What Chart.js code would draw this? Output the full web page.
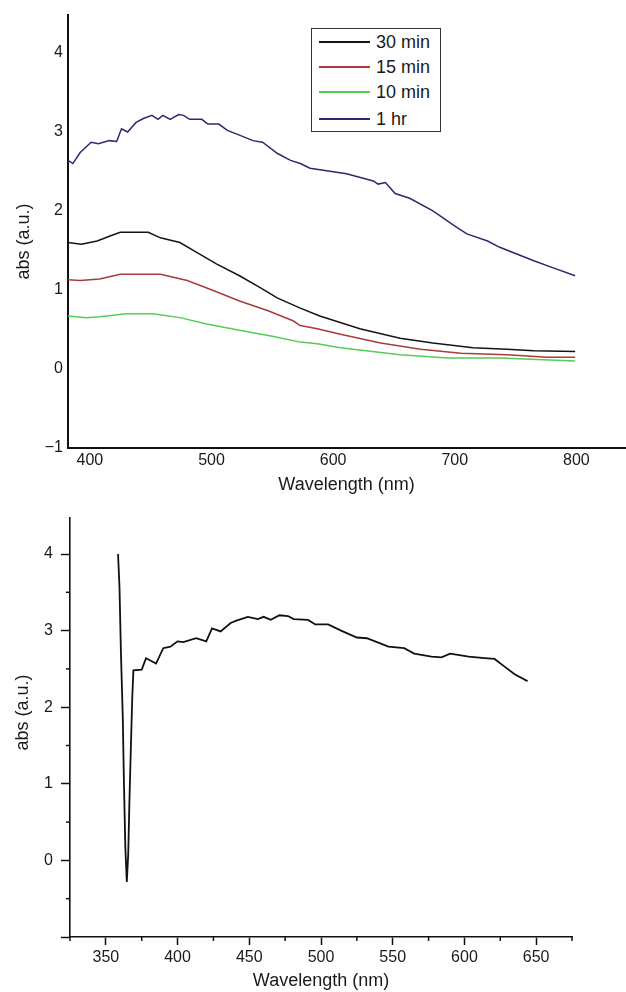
<!DOCTYPE html>
<html><head><meta charset="utf-8">
<script src="https://cdn.jsdelivr.net/npm/chart.js@4"></script>
<style>
html,body{margin:0;padding:0;background:#fff;}
#wrap{position:relative;width:626px;height:992px;overflow:hidden;}
#top{position:absolute;left:0;top:0;width:626px;height:500px;}
#bot{position:absolute;left:0;top:500px;width:626px;height:492px;}
#legend{position:absolute;left:311px;top:28px;width:128px;height:102px;border:1px solid #333;background:#fff;font-family:"Liberation Sans",Arial,sans-serif;font-size:18px;color:#1a1a1a;}
.row{position:absolute;left:0;height:22px;line-height:22px;width:128px;}
.sw{position:absolute;left:7px;top:10px;width:51px;height:2px;}
.lb{position:absolute;left:64px;top:0;white-space:nowrap;}
</style></head>
<body>
<div id="wrap">
  <div id="top"><canvas id="c1"></canvas></div>
  <div id="legend"></div>
  <div id="bot"><canvas id="c2"></canvas></div>
</div>
<script>
const FONT = '"Liberation Sans", Arial, Helvetica, sans-serif';
const TEXT = '#1a1a1a';

// ---- top chart data ----
const topXTicks = [400, 500, 600, 700, 800];
const topYTicks = [-1, 0, 1, 2, 3, 4];
const seriesLabels = ['30 min', '15 min', '10 min', '1 hr'];
const seriesColors = ['#141414', '#a83c3c', '#55cc55', '#2a2a6e'];

const wl30  = [382, 393, 406, 416, 425, 448, 458, 474, 485, 504, 523, 540, 554, 573, 589, 622, 655, 682, 715, 743, 765, 799];
const abs30 = [1.60, 1.58, 1.62, 1.68, 1.73, 1.73, 1.66, 1.60, 1.50, 1.33, 1.18, 1.03, 0.90, 0.77, 0.67, 0.51, 0.39, 0.33, 0.27, 0.25, 0.23, 0.22];

const wl15  = [382, 392, 408, 425, 458, 480, 502, 523, 546, 567, 573, 587, 606, 639, 672, 705, 743, 776, 799];
const abs15 = [1.13, 1.12, 1.14, 1.20, 1.20, 1.12, 0.99, 0.86, 0.74, 0.61, 0.55, 0.51, 0.44, 0.33, 0.25, 0.20, 0.18, 0.15, 0.15];

const wl10  = [382, 397, 408, 430, 452, 474, 496, 523, 551, 573, 587, 606, 655, 694, 737, 799];
const abs10 = [0.67, 0.65, 0.66, 0.70, 0.70, 0.65, 0.57, 0.49, 0.41, 0.34, 0.32, 0.27, 0.18, 0.14, 0.14, 0.10];

const wl1h  = [382, 386, 392, 401, 407, 416, 422, 426, 431, 438, 444, 451, 456, 460, 466, 473, 477, 482, 492, 497, 506, 513, 523, 534, 542, 554, 565, 573, 581, 611, 633, 637, 643, 651, 663, 682, 702, 710, 727, 737, 765, 781, 799];
const abs1h = [2.64, 2.60, 2.74, 2.87, 2.85, 2.89, 2.88, 3.04, 3.00, 3.12, 3.17, 3.21, 3.16, 3.21, 3.16, 3.22, 3.21, 3.16, 3.16, 3.10, 3.10, 3.02, 2.96, 2.89, 2.87, 2.73, 2.64, 2.60, 2.54, 2.47, 2.38, 2.34, 2.36, 2.22, 2.16, 2.00, 1.79, 1.71, 1.62, 1.54, 1.37, 1.28, 1.18];

// ---- bottom chart data ----
const botXTicks = [350, 400, 450, 500, 550, 600, 650];
const botXMinor = [325, 375, 425, 475, 525, 575, 625, 675];
const botYTicks = [-1, 0, 1, 2, 3, 4];
const botYMinor = [-0.5, 0.5, 1.5, 2.5, 3.5];
const wlB  = [358.5, 359.5, 360.5, 361.8, 362.6, 363.6, 364.6, 365.6, 366.4, 367.4, 368.4, 369.2, 375, 378, 385, 390, 395, 400, 404, 413, 420, 424, 430, 437, 441, 449, 456, 460, 465, 471, 477, 481, 491, 496, 505, 514, 525, 532, 547, 558, 565, 577, 584, 590, 603, 614, 621, 628, 635, 644];
const absB = [4.00, 3.57, 2.72, 1.87, 1.02, 0.16, -0.28, 0.08, 0.75, 1.45, 2.12, 2.48, 2.49, 2.64, 2.57, 2.77, 2.79, 2.86, 2.85, 2.90, 2.86, 3.03, 2.99, 3.10, 3.13, 3.18, 3.15, 3.18, 3.14, 3.20, 3.19, 3.15, 3.14, 3.08, 3.08, 3.00, 2.91, 2.90, 2.79, 2.77, 2.70, 2.66, 2.65, 2.70, 2.66, 2.64, 2.63, 2.53, 2.43, 2.34];

const pts = (xs, ys) => xs.map((x, i) => ({x: x, y: ys[i]}));
const fmt = v => (v < 0 ? '\u2212' + Math.abs(v) : String(v));
const NB = '\u00a0';

const topSeries = [[wl30, abs30], [wl15, abs15], [wl10, abs10], [wl1h, abs1h]];

const c1 = new Chart(document.getElementById('c1'), {
  type: 'line',
  data: {
    datasets: topSeries.map((s, i) => ({
      label: seriesLabels[i],
      data: pts(s[0], s[1]),
      borderColor: seriesColors[i],
      backgroundColor: seriesColors[i],
      borderWidth: 1.5,
      pointRadius: 0,
      tension: 0,
      fill: false
    }))
  },
  options: {
    responsive: true, maintainAspectRatio: false, animation: false,
    layout: {padding: {top: 15, right: 1, left: 0, bottom: 0}},
    plugins: {legend: {display: false}, tooltip: {enabled: false}},
    scales: {
      x: {
        type: 'linear', min: 382, max: 840,
        afterBuildTicks: s => { s.ticks = topXTicks.map(v => ({value: v})); },
        afterFit: s => { s.height = 52; },
        grid: {display: false, drawTicks: false},
        border: {display: true, color: '#111', width: 2},
        ticks: {padding: 3, color: TEXT, font: {family: FONT, size: 16}, maxRotation: 0, autoSkip: false},
        title: {display: true, text: 'Wavelength (nm)', color: TEXT, font: {family: FONT, size: 18}, padding: {top: 0, bottom: 4}}
      },
      y: {
        type: 'linear', min: -1, max: 4.48,
        afterBuildTicks: s => { s.ticks = topYTicks.map(v => ({value: v})); },
        afterFit: s => { s.width = 68; },
        grid: {display: false, drawTicks: false},
        border: {display: true, color: '#111', width: 2},
        ticks: {padding: 5, color: TEXT, font: {family: FONT, size: 16}, callback: v => fmt(v)},
        title: {display: true, text: 'abs (a.u.)' + NB.repeat(4), color: TEXT, font: {family: FONT, size: 18}, padding: {top: 13, bottom: 0}}
      }
    }
  }
});

// HTML legend built from the chart's datasets
const leg = document.getElementById('legend');
const rowCenters = [13, 38, 63, 90];
c1.data.datasets.forEach((d, i) => {
  const row = document.createElement('div');
  row.className = 'row';
  row.style.top = (rowCenters[i] - 11) + 'px';
  const sw = document.createElement('div');
  sw.className = 'sw';
  sw.style.background = d.borderColor;
  const lb = document.createElement('span');
  lb.className = 'lb';
  lb.textContent = d.label;
  row.appendChild(sw); row.appendChild(lb);
  leg.appendChild(row);
});

const minorTickPlugin = {
  id: 'minorTicks',
  afterDraw(chart, args, opts) {
    const ctx = chart.ctx, xs = chart.scales.x, ys = chart.scales.y;
    ctx.save();
    ctx.strokeStyle = opts.color; ctx.lineWidth = opts.width;
    (opts.x || []).forEach(v => {
      const px = xs.getPixelForValue(v);
      ctx.beginPath(); ctx.moveTo(px, xs.top); ctx.lineTo(px, xs.top + opts.length); ctx.stroke();
    });
    (opts.y || []).forEach(v => {
      const py = ys.getPixelForValue(v);
      ctx.beginPath(); ctx.moveTo(ys.right, py); ctx.lineTo(ys.right - opts.length, py); ctx.stroke();
    });
    ctx.restore();
  }
};

new Chart(document.getElementById('c2'), {
  type: 'line',
  data: {
    datasets: [{
      label: 'abs',
      data: pts(wlB, absB),
      borderColor: '#111',
      borderWidth: 1.8,
      pointRadius: 0,
      tension: 0,
      fill: false
    }]
  },
  plugins: [minorTickPlugin],
  options: {
    responsive: true, maintainAspectRatio: false, animation: false,
    layout: {padding: {top: 18, right: 54, left: 0, bottom: 0}},
    plugins: {
      legend: {display: false}, tooltip: {enabled: false},
      minorTicks: {x: botXMinor, y: botYMinor, length: 4, width: 1.5, color: '#111'}
    },
    scales: {
      x: {
        type: 'linear', min: 325, max: 675,
        afterBuildTicks: s => { s.ticks = botXTicks.map(v => ({value: v})); },
        afterFit: s => { s.height = 55; },
        grid: {display: true, drawOnChartArea: false, drawTicks: true, tickLength: 8, tickWidth: 1.5, tickColor: '#111'},
        border: {display: true, color: '#111', width: 1.6},
        ticks: {padding: 3, color: TEXT, font: {family: FONT, size: 16}, maxRotation: 0, autoSkip: false},
        title: {display: true, text: 'Wavelength (nm)', color: TEXT, font: {family: FONT, size: 18}, padding: {top: 0, bottom: 0}}
      },
      y: {
        type: 'linear', min: -1, max: 4.47,
        afterBuildTicks: s => { s.ticks = botYTicks.map(v => ({value: v})); },
        afterFit: s => { s.width = 70; },
        grid: {display: true, drawOnChartArea: false, drawTicks: true, tickLength: 9, tickWidth: 1.5, tickColor: '#111'},
        border: {display: true, color: '#111', width: 1.6},
        ticks: {padding: 8, color: TEXT, font: {family: FONT, size: 16}, callback: v => (v === -1 ? '' : fmt(v))},
        title: {display: true, text: NB.repeat(6) + 'abs (a.u.)', color: TEXT, font: {family: FONT, size: 18}, padding: {top: 12, bottom: 0}}
      }
    }
  }
});
</script>
</body></html>
